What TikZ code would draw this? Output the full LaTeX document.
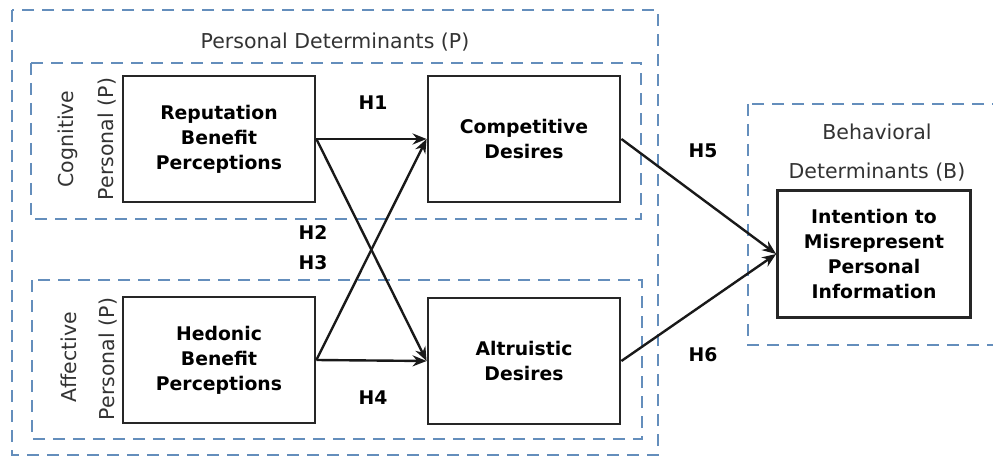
\documentclass[tikz,border=0pt]{standalone}
\usepackage{fontspec}
\setmainfont{DejaVu Sans}
\usetikzlibrary{arrows.meta}
\definecolor{dashblue}{RGB}{100,142,188}
\tikzset{
  construct/.style={draw=black!85, line width=2.8pt, minimum width=192pt,
    minimum height=126pt, align=center, inner sep=0pt,
    font=\bfseries\fontsize{18.8}{25}\selectfont},
  group/.style={draw=dashblue, line width=2.4pt, dash pattern=on 12pt off 8pt},
  link/.style={-{Stealth[length=14pt,width=11pt]}, line width=2.4pt, black!90},
  hyp/.style={font=\bfseries\fontsize{18.8}{22}\selectfont},
  label/.style={font=\fontsize{20.5}{24}\selectfont, text=black!80},
  sidelabel/.style={label, rotate=90}
}
\begin{document}
\begin{tikzpicture}[x=1pt, y=-1pt]
\useasboundingbox (0,0) rectangle (993,457);
% dashed groups
\draw[group] (12,10) rectangle (658,455);
\draw[group] (31,63) rectangle (641,219);
\draw[group] (32,280) rectangle (642,439);
\draw[group] (748,104) rectangle (1005,345);
\node[label] (personal) at (335,42) {Personal Determinants (P)};
\node[label] (behav1) at (877,132) {Behavioral};
\node[label] (behav2) at (877,172) {Determinants (B)};
\node[sidelabel] (cogn) at (68,139) {Cognitive};
\node[sidelabel] (cognp) at (107,139) {Personal (P)};
\node[sidelabel] (affe) at (69,357) {Affective};
\node[sidelabel] (affep) at (108,359) {Personal (P)};
% constructs
\node[construct] (reput) at (219,139) {Reputation\\Benefit\\Perceptions};
\node[construct] (hedon) at (219,360) {Hedonic\\Benefit\\Perceptions};
\node[construct] (compet) at (524,139) {Competitive\\Desires};
\node[construct] (altru) at (524,361) {Altruistic\\Desires};
\node[construct, minimum width=193pt, minimum height=127pt] (intent) at (874,254)
  {Intention to\\Misrepresent\\Personal\\Information};
% hypotheses
\draw[link] (reput.east) -- (compet.west);
\draw[link] (reput.east) -- (altru.west);
\draw[link] (hedon.east) -- (compet.west);
\draw[link] (hedon.east) -- (altru.west);
\draw[link] (compet.east) -- (intent.west);
\draw[link] (altru.east) -- (intent.west);
\node[hyp] (h1) at (373,103) {H1};
\node[hyp] (h2) at (313,233) {H2};
\node[hyp] (h3) at (313,263) {H3};
\node[hyp] (h4) at (373,398) {H4};
\node[hyp] (h5) at (703,151) {H5};
\node[hyp] (h6) at (703,355) {H6};
\end{tikzpicture}
\end{document}
